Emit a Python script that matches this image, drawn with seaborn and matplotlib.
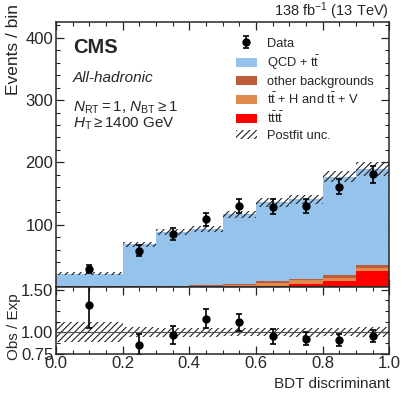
import numpy as np
import pandas as pd
import seaborn as sns
import matplotlib.pyplot as plt
from matplotlib.patches import Patch
from matplotlib.ticker import MultipleLocator, FixedLocator

# ---- data ----
bin_edges = [0.0, 0.2, 0.3, 0.4, 0.5, 0.6, 0.7, 0.8, 0.9, 1.0]
qcd_tt = [19.7, 66.7, 85.3, 90.0, 111.3, 126.7, 127.8, 157.4, 153.7]
other_bkg = [1.2, 1.0, 1.2, 1.6, 1.9, 2.4, 2.1, 5.3, 4.3]
tth_ttv = [0.8, 0.8, 1.0, 1.6, 2.5, 4.5, 6.5, 5.4, 5.3]
tttt = [0.3, 0.3, 0.5, 0.8, 1.2, 2.4, 4.5, 9.3, 26.4]
postfit_unc = [2.6, 4.2, 4.8, 4.7, 5.8, 6.7, 7.0, 8.5, 11.5]
data_obs = [29.0, 58.9, 85.2, 109.2, 130.5, 129.3, 130.5, 161.4, 181.2]
data_err = [6.0, 8.5, 9.5, 10.5, 11.5, 11.5, 11.5, 12.5, 13.5]

proc_names = ["QCD + t$\\bar{\\rm t}$", "other backgrounds",
              "t$\\bar{\\rm t}$ + H and t$\\bar{\\rm t}$ + V", "t$\\bar{\\rm t}$t$\\bar{\\rm t}$"]
proc_colors = ["#96c3eb", "#bd5b3b", "#e08a4e", "#ff0000"]
hatch_col = "#222222"

sns.set_style("ticks")
plt.rcParams["font.family"] = ["Liberation Sans", "DejaVu Sans"]
plt.rcParams["mathtext.fontset"] = "custom"
plt.rcParams["mathtext.rm"] = "Liberation Sans"
plt.rcParams["mathtext.it"] = "Liberation Sans:italic"
plt.rcParams["mathtext.bf"] = "Liberation Sans:bold"
plt.rcParams["hatch.linewidth"] = 0.8

edges = np.array(bin_edges)
centers = 0.5 * (edges[:-1] + edges[1:])
widths = np.diff(edges)
total = np.array(qcd_tt) + np.array(other_bkg) + np.array(tth_ttv) + np.array(tttt)

rows = []
for name, vals in zip(proc_names, [qcd_tt, other_bkg, tth_ttv, tttt]):
  for c, v in zip(centers, vals):
    rows.append({"x": c, "w": v, "proc": name})
df = pd.DataFrame(rows)

fig = plt.figure(figsize=(4.07, 3.96), dpi=100)
ax = fig.add_axes([0.1376, 0.2745, 0.8189, 0.6707])
rax = fig.add_axes([0.1376, 0.1073, 0.8189, 0.1672], sharex=ax)

# stacked backgrounds (last hue level ends up at the bottom)
sns.histplot(
  data=df, x="x", weights="w", hue="proc", hue_order=proc_names,
  bins=bin_edges, multiple="stack", element="step", fill=True, alpha=1,
  palette=dict(zip(proc_names, proc_colors)), linewidth=0, legend=False, ax=ax,
)

# postfit uncertainty band
ax.bar(edges[:-1], 2 * np.array(postfit_unc), bottom=total - np.array(postfit_unc),
       width=widths, align="edge", fill=False, hatch="/////", edgecolor=hatch_col, linewidth=0)

data_h = ax.errorbar(centers, data_obs, yerr=data_err, fmt="o", color="k",
                     ms=5, capsize=2.5, elinewidth=1.2, capthick=1.2)

ax.set_xlim(0, 1)
ax.set_ylim(0, 425.5)
ax.yaxis.set_major_locator(FixedLocator([100, 200, 300, 400]))
ax.yaxis.set_minor_locator(MultipleLocator(20))
ax.set_ylabel("Events / bin", loc="top", fontsize=12.5)
ax.yaxis.set_label_coords(-0.105, 1.066)
ax.set_xlabel("")
ax.tick_params(labelbottom=False)

# ratio panel
rel_unc = np.array(postfit_unc) / total
rax.bar(edges[:-1], 2 * rel_unc, bottom=1 - rel_unc, width=widths, align="edge",
        fill=False, hatch="/////", edgecolor=hatch_col, linewidth=0)
rax.axhline(1.0, color="#555555", lw=0.8)
rax.errorbar(centers, np.array(data_obs) / total, yerr=np.array(data_err) / total,
             fmt="o", color="k", ms=5, capsize=2.5, elinewidth=1.2, capthick=1.2)
rax.set_ylim(0.75, 1.53)
rax.yaxis.set_major_locator(FixedLocator([0.75, 1.0, 1.5]))
rax.yaxis.set_minor_locator(FixedLocator([0.875, 1.125, 1.25, 1.375]))
rax.yaxis.set_major_formatter(plt.FormatStrFormatter("%.2f"))
rax.xaxis.set_major_locator(MultipleLocator(0.2))
rax.xaxis.set_minor_locator(MultipleLocator(0.05))
rax.xaxis.set_major_formatter(plt.FormatStrFormatter("%.1f"))
rax.set_ylabel("Obs / Exp", fontsize=11)
rax.yaxis.set_label_coords(-0.105, 0.4)
rax.set_xlabel("BDT discriminant", loc="right", fontsize=11)

for a in (ax, rax):
  a.tick_params(which="both", direction="in", top=True, right=True, labelsize=12, pad=2)
  a.tick_params(which="major", length=6, width=0.9)
  a.tick_params(which="minor", length=3, width=0.8)
  for sp in a.spines.values():
    sp.set_linewidth(1.1)

ax.text(0.05, 0.903, "CMS", transform=ax.transAxes, fontsize=14.5, weight="bold", va="center")
ax.text(0.05, 0.788, "All-hadronic", transform=ax.transAxes, fontsize=11, style="italic", va="center")
ax.text(0.05, 0.675, "$N_{\\rm RT} = 1$, $N_{\\rm BT} \\geq 1$", transform=ax.transAxes, fontsize=11, va="center")
ax.text(0.05, 0.615, "$H_{\\rm T} \\geq 1400$ GeV", transform=ax.transAxes, fontsize=11, va="center")
ax.text(1.0, 1.02, "138 fb$^{-1}$ (13 TeV)", transform=ax.transAxes, fontsize=10.5, ha="right", va="baseline")

handles = [data_h] + [Patch(facecolor=c, edgecolor="none") for c in proc_colors] + \
          [Patch(facecolor="none", edgecolor=hatch_col, linewidth=0, hatch="/////")]
labels = ["Data"] + proc_names + ["Postfit unc."]
ax.legend(handles, labels, loc="upper left", bbox_to_anchor=(0.525, 0.96), frameon=False,
          fontsize=9.3, handlelength=1.6, handletextpad=0.8, labelspacing=0.3, borderaxespad=0)

fig.savefig("out.png", dpi=100)
